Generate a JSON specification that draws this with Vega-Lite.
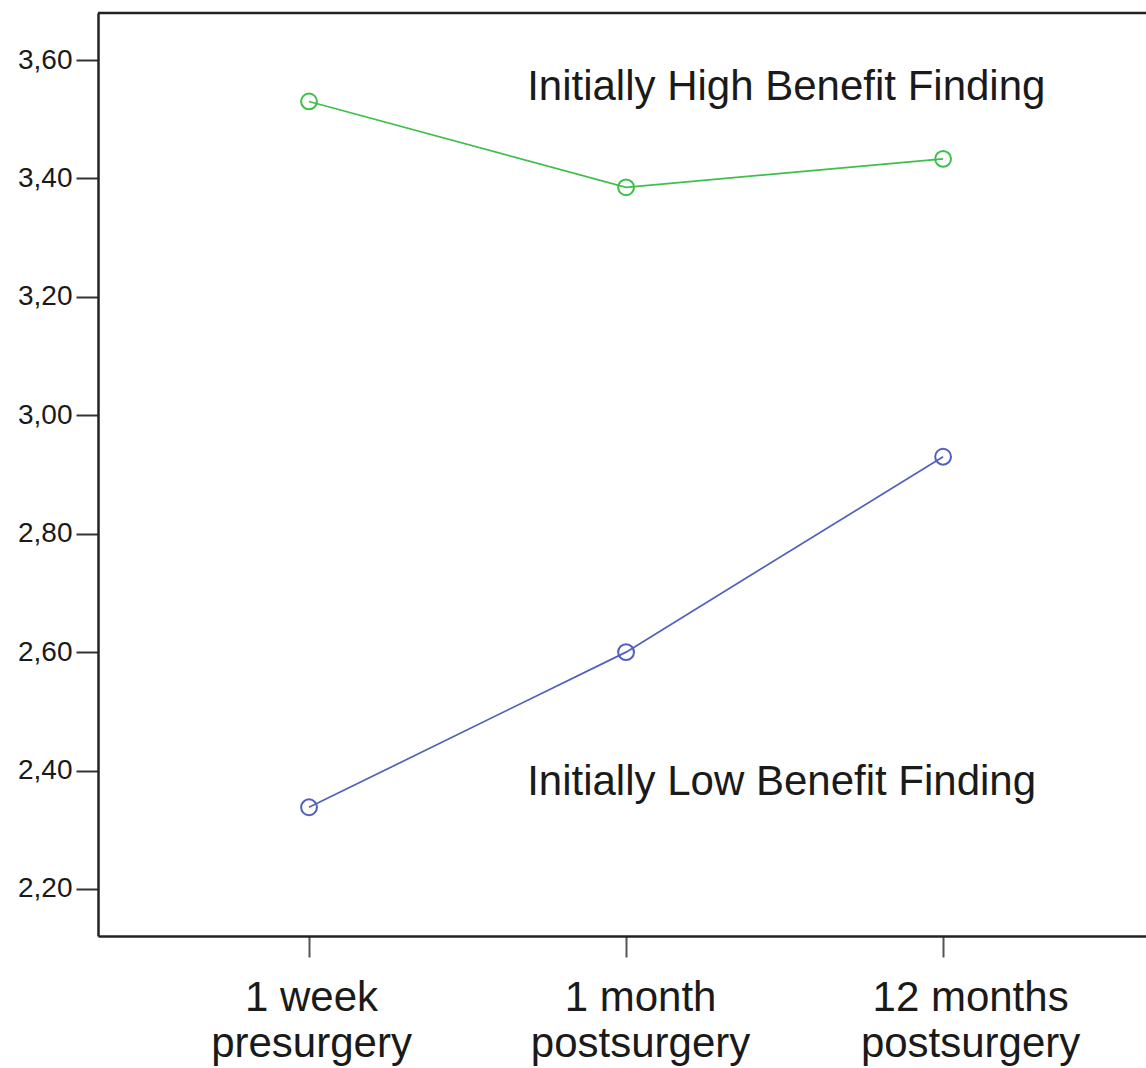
{
  "$schema": "https://vega.github.io/schema/vega-lite/v6.json",
  "width": 1048,
  "height": 923,
  "autosize": {"type": "none"},
  "padding": {"left": 98, "top": 13, "right": 0, "bottom": 132},
  "background": "white",
  "config": {"view": {"stroke": null}, "font": "Liberation Sans"},
  "datasets": {
    "means": [
      {"time": 1, "group": "High", "value": 3.53},
      {"time": 2, "group": "High", "value": 3.385},
      {"time": 3, "group": "High", "value": 3.433},
      {"time": 1, "group": "Low", "value": 2.338},
      {"time": 2, "group": "Low", "value": 2.6},
      {"time": 3, "group": "Low", "value": 2.93}
    ],
    "labels": [
      {"time": 1.688, "value": 3.5325, "label": "Initially High Benefit Finding"},
      {"time": 1.688, "value": 2.3587, "label": "Initially Low Benefit Finding"}
    ]
  },
  "layer": [
    {
      "data": {"name": "means"},
      "mark": {"type": "line", "strokeWidth": 1.7},
      "encoding": {
        "x": {
          "field": "time", "type": "quantitative",
          "scale": {"domain": [0.3344, 3.64], "nice": false, "zero": false},
          "axis": {
            "title": null, "grid": false, "orient": "bottom",
            "values": [1, 2, 3],
            "labelExpr": "datum.value == 1 ? ['1 week', 'presurgery'] : datum.value == 2 ? ['1 month', 'postsurgery'] : ['12 months', 'postsurgery']",
            "labelFontSize": 42, "labelColor": "#1a1a1a", "labelLineHeight": 46,
            "labelPadding": 20, "labelAlign": "center", "labelBaseline": "top",
            "labelLimit": 500,
            "labelOffset": {"condition": [{"test": "datum.value == 2", "value": 14}, {"test": "datum.value == 3", "value": 27}], "value": 2},
            "tickSize": 21, "tickColor": "#555555", "tickWidth": 2,
            "domainColor": "#222222", "domainWidth": 2.5, "labelOverlap": false, "labelFlush": false
          }
        },
        "y": {
          "field": "value", "type": "quantitative",
          "scale": {"domain": [2.1206, 3.6794], "nice": false, "zero": false},
          "axis": {
            "title": null, "grid": false,
            "values": [2.2, 2.4, 2.6, 2.8, 3.0, 3.2, 3.4, 3.6],
            "labelExpr": "replace(format(datum.value, '.2f'), '.', ',')",
            "labelFontSize": 28, "labelColor": "#1a1a1a", "labelPadding": 4,
            "tickSize": 22, "tickColor": "#333333", "tickWidth": 2,
            "domainColor": "#222222", "domainWidth": 2.5
          }
        },
        "color": {
          "field": "group", "type": "nominal",
          "scale": {"domain": ["High", "Low"], "range": ["#3dbf4a", "#5060bb"]},
          "legend": null
        }
      }
    },
    {
      "data": {"name": "means"},
      "mark": {"type": "point", "shape": "circle", "filled": false, "size": 250, "strokeWidth": 2, "opacity": 1},
      "encoding": {
        "x": {"field": "time", "type": "quantitative"},
        "y": {"field": "value", "type": "quantitative"},
        "color": {"field": "group", "type": "nominal", "legend": null}
      }
    },
    {
      "data": {"name": "labels"},
      "mark": {"type": "text", "align": "left", "baseline": "alphabetic", "fontSize": 42, "color": "#1a1a1a"},
      "encoding": {
        "x": {"field": "time", "type": "quantitative"},
        "y": {"field": "value", "type": "quantitative"},
        "text": {"field": "label"}
      }
    },
    {
      "data": {"values": [{}]},
      "mark": {"type": "rule", "color": "#222222", "strokeWidth": 2.5},
      "encoding": {"y": {"datum": 3.6794}}
    }
  ]
}
